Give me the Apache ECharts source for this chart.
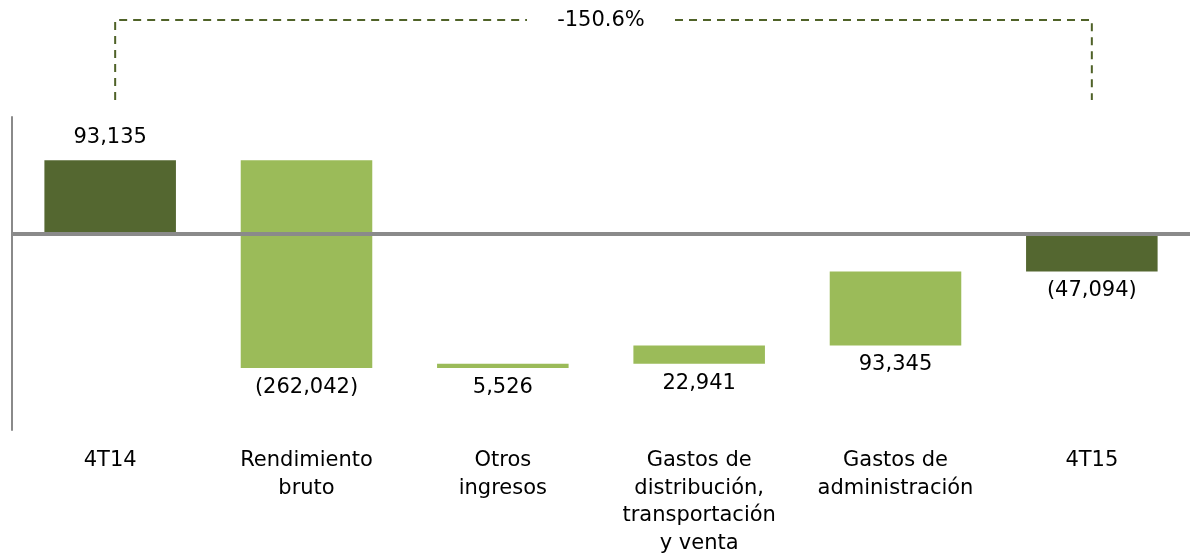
<!DOCTYPE html>
<html><head><meta charset="utf-8">
<script src="https://cdn.jsdelivr.net/npm/echarts@6/dist/echarts.min.js"></script>
<style>html,body{margin:0;padding:0;background:#fff}#c{width:1196px;height:554px}</style>
</head><body><div id="c"></div>
<script>
const categories = ['4T14', 'Rendimiento\nbruto', 'Otros\ningresos', 'Gastos de\ndistribución,\ntransportación\ny venta', 'Gastos de\nadministración', '4T15'];
const values = [93135, -262042, 5526, 22941, 93345, -47094];
const isTotal = [true, false, false, false, false, true];
const valueLabels = ['93,135', '(262,042)', '5,526', '22,941', '93,345', '(47,094)'];
const changeLabel = '-150.6%';

const DARK = '#546730', LIGHT = '#9BBB59', FONT = 'DejaVu Sans', FS = 21;

let run = 0;
const rows = values.map((v, i) => {
  let s, e;
  if (isTotal[i]) { s = 0; e = v; run = v; }
  else { s = run; e = run + v; run = e; }
  return [i, s, e, v];
});

const chart = echarts.init(document.getElementById('c'), null, {renderer: 'canvas'});
chart.setOption({
  animation: false,
  grid: {left: 12, right: 6, top: 117, bottom: 124, containLabel: false, outerBoundsMode: 'none'},
  xAxis: {
    type: 'category', data: categories,
    axisLine: {show: false}, axisTick: {show: false},
    axisLabel: {fontFamily: FONT, fontSize: FS, color: '#000', lineHeight: 27.5, margin: 17, interval: 0}
  },
  yAxis: {
    type: 'value', min: -247000, max: 147500,
    axisLine: {show: true, lineStyle: {color: '#8a8a8a', width: 2}},
    axisTick: {show: false}, axisLabel: {show: false}, splitLine: {show: false}
  },
  series: [{
    type: 'custom',
    data: rows,
    encode: {x: 0, y: [1, 2]},
    renderItem: function (params, api) {
      const i = api.value(0);
      const s = api.value(1), e = api.value(2);
      const p1 = api.coord([i, s]), p2 = api.coord([i, e]);
      const w = api.size([1, 0])[0] * 0.67;
      const top = Math.min(p1[1], p2[1]), bot = Math.max(p1[1], p2[1]);
      const x = p1[0] - w / 2;
      const color = isTotal[i] ? DARK : LIGHT;
      const above = i === 0;
      return {
        type: 'group',
        children: [
          {type: 'rect', shape: {x: x, y: top, width: w, height: Math.max(bot - top, 1)}, style: {fill: color}},
          {type: 'text', style: {
            text: valueLabels[i], x: p1[0], y: above ? top - 12 : bot + 9,
            align: 'center', verticalAlign: above ? 'bottom' : 'top',
            fontFamily: FONT, fontSize: FS, fill: '#000'
          }}
        ]
      };
    },
    markLine: {
      silent: true, symbol: 'none', label: {show: false},
      lineStyle: {color: '#8a8a8a', width: 4, type: 'solid'},
      data: [{yAxis: 0}]
    },
    z: 2
  }]
});

const l = chart.convertToPixel({xAxisIndex: 0}, 0);
const r = chart.convertToPixel({xAxisIndex: 0}, 5);
const mid = (l + r) / 2;
const yTop = 20, yBot = 100, gap = 74;
const dash = {stroke: '#4F6228', lineWidth: 2, lineDash: [8, 6], fill: null};
chart.setOption({
  graphic: [
    {type: 'polyline', shape: {points: [[l + 5, yBot], [l + 5, yTop], [mid - gap, yTop]]}, style: dash},
    {type: 'polyline', shape: {points: [[mid + gap, yTop], [r, yTop], [r, yBot]]}, style: dash},
    {type: 'text', x: mid, y: yTop + 1, style: {text: changeLabel, align: 'center', verticalAlign: 'middle', fontFamily: FONT, fontSize: FS, fill: '#000'}}
  ]
});
</script>
</body></html>
